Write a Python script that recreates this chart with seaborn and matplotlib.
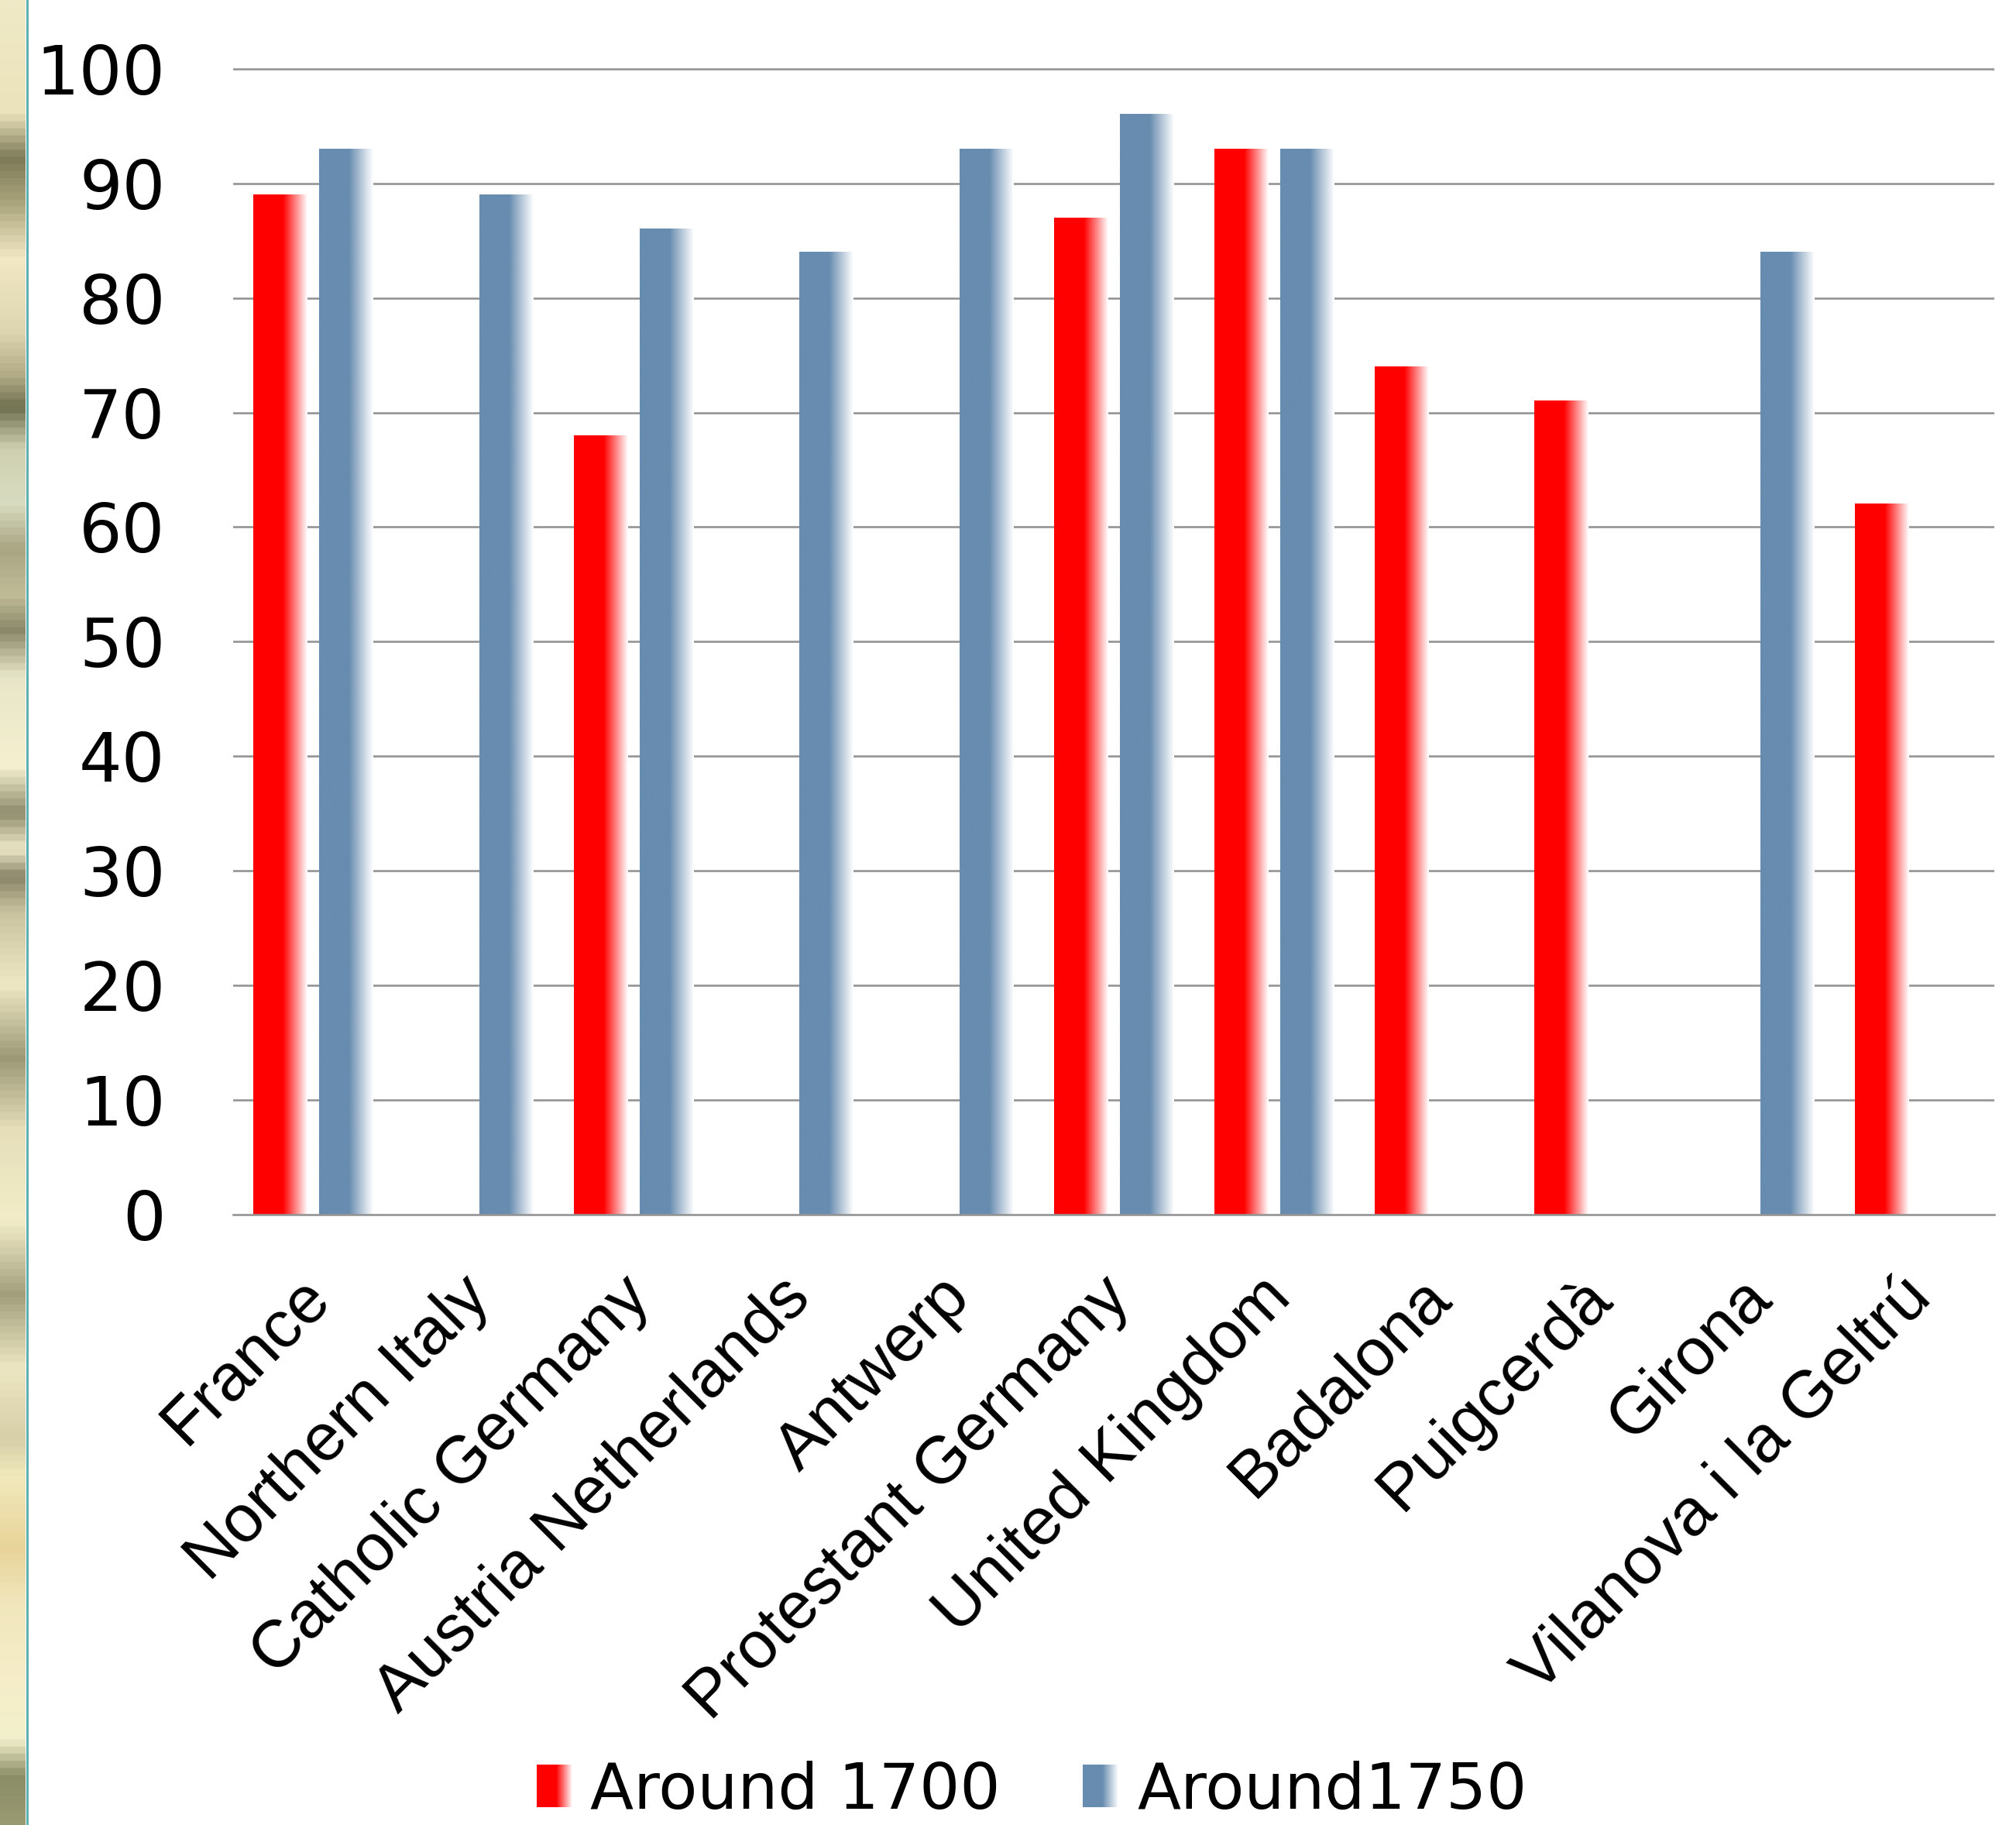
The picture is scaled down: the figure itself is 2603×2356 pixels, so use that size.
import numpy as np
import pandas as pd
import matplotlib
matplotlib.use("Agg")
import matplotlib.pyplot as plt
import seaborn as sns
from matplotlib.colors import LinearSegmentedColormap, to_rgb
from matplotlib.transforms import ScaledTranslation
from matplotlib.patches import Patch
from matplotlib.lines import Line2D

# ---- data -------------------------------------------------------------
regions = ["France", "Northern Italy", "Catholic Germany", "Austria Netherlands",
           "Antwerp", "Protestant Germany", "United Kingdom", "Badalona",
           "Puigcerdà", "Girona", "Vilanova i la Geltrú"]
around_1700 = [89, np.nan, 68, np.nan, np.nan, 87, 93, 74, 71, np.nan, 62]
around_1750 = [93, 89, 86, 84, 93, 96, 93, np.nan, np.nan, 84, np.nan]
periods = ["Around 1700", "Around1750"]
y_ticks = list(range(0, 101, 10))

RED = "#ff0000"
BLUE = "#678caf"

df = pd.DataFrame({
    "region": regions * 2,
    "period": [periods[0]] * len(regions) + [periods[1]] * len(regions),
    "value": around_1700 + around_1750,
}).dropna()

# ---- figure -----------------------------------------------------------
W, H = 2603, 2356
sns.set_style("white")
plt.rcParams["font.family"] = ["DejaVu Sans"]
plt.rcParams["text.color"] = "black"
plt.rcParams["xtick.color"] = "black"
plt.rcParams["ytick.color"] = "black"

fig = plt.figure(figsize=(W / 100, H / 100), dpi=100)
fig.patch.set_facecolor("white")

ax = fig.add_axes([301 / W, 1 - 1568 / H, (2575 - 301) / W, (1568 - 74) / H])

sns.barplot(data=df, x="region", y="value", hue="period", order=regions,
            hue_order=periods, palette=[RED, BLUE], width=0.82, gap=0.185,
            saturation=1, errorbar=None, legend=False, ax=ax)


def fade(color, n=256, solid=0.55):
    """Horizontal ramp: flat colour, then a blend into white."""
    t = np.linspace(0, 1, n)
    mix = np.clip((t - solid) / (1 - solid), 0, 1)[:, None]
    rgb = np.array(to_rgb(color))[None, :] * (1 - mix) + mix
    return rgb[None, :, :]


# replace flat fills with the faded fill
for container, col in zip(ax.containers, [RED, BLUE]):
    grad = fade(col)
    for bar in container:
        h = bar.get_height()
        if not np.isfinite(h) or h <= 0:
            continue
        x0 = bar.get_x()
        w = bar.get_width()
        ax.imshow(grad, extent=[x0, x0 + w, 0, h], aspect="auto",
                  interpolation="bilinear", zorder=2)
        bar.set_visible(False)

ax.set_xlim(-0.5, len(regions) - 0.5)
ax.set_ylim(0, 101)
ax.set_yticks(y_ticks)
ax.set_xlabel("")
ax.set_ylabel("")

# gridlines and frame
for v in y_ticks[1:]:
    ax.axhline(v, color="#949494", lw=1.9, zorder=1)
for side in ["top", "right", "left"]:
    ax.spines[side].set_visible(False)
ax.spines["bottom"].set_color("#949494")
ax.spines["bottom"].set_linewidth(1.9)
ax.spines["bottom"].set_zorder(3)

ax.tick_params(axis="y", length=0, pad=63, labelsize=63, labelcolor="black")
ax.tick_params(axis="x", length=0, pad=68, labelcolor="black")
ax.set_xticks(range(len(regions)))
ax.set_xticklabels(regions, rotation=45, ha="right", va="center",
                   rotation_mode="anchor", fontsize=62, color="black",
                   family=["Liberation Sans", "DejaVu Sans"])
shift = ScaledTranslation(0.09, 0, fig.dpi_scale_trans)
for lab in ax.get_xticklabels():
    lab.set_transform(lab.get_transform() + shift)

# ---- legend -----------------------------------------------------------
handles = [Patch(facecolor=RED, edgecolor="none"),
           Patch(facecolor=BLUE, edgecolor="none")]
leg = fig.legend(handles, periods, loc="center",
                 bbox_to_anchor=(1332 / W, 1 - 2312 / H), ncol=2,
                 frameon=False, fontsize=59, handlelength=0.55,
                 handleheight=0.65, handletextpad=0.3, columnspacing=1.3,
                 borderpad=0, labelcolor="black")

fig.canvas.draw()
renderer = fig.canvas.get_renderer()
for hnd, col in zip(leg.legend_handles, [RED, BLUE]):
    bb = hnd.get_window_extent(renderer).transformed(fig.transFigure.inverted())
    lax = fig.add_axes([bb.x0, bb.y0, bb.width, bb.height])
    lax.imshow(fade(col), aspect="auto", interpolation="bilinear")
    lax.set_axis_off()
    hnd.set_facecolor("none")

# ---- slide background strip on the left edge ---------------------------
strip_stops = [
    (0.00, "#efe9c6"), (0.06, "#ebe3bb"), (0.085, "#7d7a58"), (0.11, "#aba57d"),
    (0.14, "#f2e9c4"), (0.18, "#ddd6b0"), (0.205, "#b0aa85"), (0.222, "#6f7050"),
    (0.245, "#cfd0b0"), (0.275, "#d8dcc0"), (0.30, "#a9a482"), (0.325, "#c0bc98"),
    (0.345, "#8a8868"), (0.37, "#e8e6c8"), (0.42, "#f4f0d0"), (0.445, "#8e8c6c"),
    (0.465, "#ede8c8"), (0.48, "#8a8468"), (0.50, "#c9c3a0"), (0.54, "#efe8c4"),
    (0.58, "#9c9876"), (0.62, "#e6dfba"), (0.67, "#f2ecc8"), (0.71, "#a29e7c"),
    (0.75, "#ece6c2"), (0.79, "#d6cfa8"), (0.81, "#f1e8bc"), (0.85, "#e8d49a"),
    (0.88, "#f1e6bc"), (0.92, "#f6edc8"), (0.955, "#f2f0cc"), (0.975, "#8a8d66"),
    (1.00, "#9a9a72"),
]
strip_cmap = LinearSegmentedColormap.from_list("strip", strip_stops)
sax = fig.add_axes([0, 0, 33 / W, 1])
sax.imshow(np.linspace(0, 1, 1024)[:, None], cmap=strip_cmap, aspect="auto",
           interpolation="bilinear")
sax.set_axis_off()
fig.add_artist(Line2D([34.5 / W, 34.5 / W], [0, 1], color="#5fb0b0", lw=2.2,
                      transform=fig.transFigure))

fig.savefig("out.png", dpi=100, facecolor="white")
